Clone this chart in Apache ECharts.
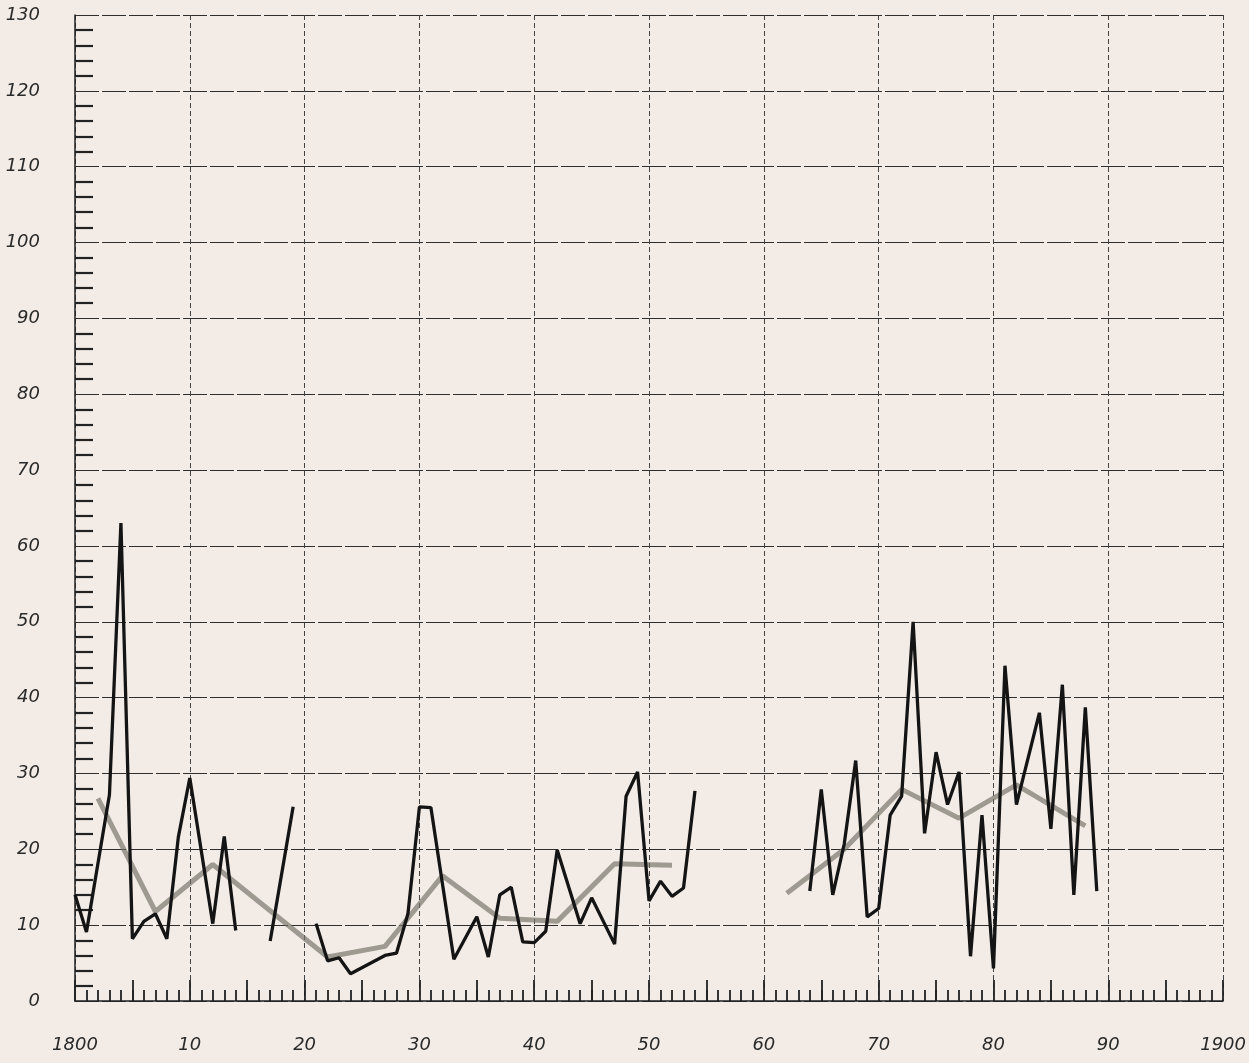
<!DOCTYPE html>
<html><head><meta charset="utf-8">
<script src="https://cdn.jsdelivr.net/npm/echarts@6/dist/echarts.min.js"></script>
<style>html,body{margin:0;padding:0;background:#f3ece6}#c{width:1249px;height:1063px}</style>
</head><body><div id="c"></div>
<script>
// Annual values (black line); null marks a break in the drawn line
const years = [1800,1801,1803,1804,1805,1806,1807,1808,1809,1810,1812,1813,1814,1815,1817,1819,1820,
  1821,1822,1823,1824,1827,1828,1829,1830,1831,1833,1835,1836,1837,1838,1839,1840,1841,1842,1844,1845,1847,
  1848,1849,1850,1851,1852,1853,1854,1858,
  1864,1865,1866,1867,1868,1869,1870,1871,1872,1873,1874,1875,1876,1877,1878,1879,1880,1881,1882,1884,
  1885,1886,1887,1888,1889];
const values = [14.0,9.1,27.2,63.0,8.2,10.5,11.5,8.2,21.6,29.4,10.2,21.7,9.3,null,7.9,25.6,null,
  10.2,5.3,5.7,3.6,6.0,6.3,11.5,25.6,25.5,5.5,11.1,5.8,14.0,15.0,7.8,7.7,9.2,19.9,10.2,13.6,7.5,
  27.0,30.2,13.2,15.8,13.8,14.9,27.7,null,
  14.5,27.9,14.0,20.7,31.7,11.1,12.2,24.5,27.0,50.0,22.1,32.8,25.9,30.2,5.9,24.5,4.3,44.2,25.9,38.0,
  22.7,41.7,14.0,38.7,14.5];
// Smoothed (grey) line
const trendYears = [1802,1807,1812,1822,1827,1832,1837,1842,1847,1852,1857,1862,1867,1872,1877,1882,1888];
const trendValues = [26.7,11.8,18.0,5.8,7.2,16.5,10.9,10.5,18.1,17.9,null,14.2,20.0,27.9,24.1,28.5,23.1];
// Tick labels
const xTickLabels = ['1800','10','20','30','40','50','60','70','80','90','1900'];
const yTickLabels = ['0','10','20','30','40','50','60','70','80','90','100','110','120','130'];

const pair = (xs, vs) => xs.map((x, i) => [x, vs[i] === null ? '-' : vs[i]]);
const labelFont = {fontFamily: 'DejaVu Sans', fontStyle: 'italic', fontSize: 18, color: '#2a2a2a'};

const chart = echarts.init(document.getElementById('c'), null, {renderer: 'canvas'});
chart.setOption({
  animation: false,
  backgroundColor: '#f3ece6',
  grid: {left: 75, right: 24, top: 15, bottom: 62, containLabel: false},
  xAxis: [{
    type: 'value', min: 1800, max: 1900, interval: 10,
    axisLine: {show: true, lineStyle: {color: '#222', width: 1.5}},
    axisTick: {show: false, inside: true},
    minorTick: {show: true, splitNumber: 10, length: 11, lineStyle: {color: '#222', width: 1.8}},
    splitLine: {show: true, lineStyle: {color: '#444', width: 1, type: [5, 3]}},
    axisLabel: Object.assign({margin: 35, formatter: v => xTickLabels[Math.round((v - 1800) / 10)]}, labelFont)
  }, {
    type: 'value', min: 1800, max: 1900, interval: 5, position: 'bottom',
    axisLine: {show: false}, axisLabel: {show: false}, splitLine: {show: false},
    axisTick: {show: true, inside: true, length: 21, lineStyle: {color: '#222', width: 1.8}}
  }],
  yAxis: {
    type: 'value', min: 0, max: 130, interval: 10,
    axisLine: {show: true, lineStyle: {color: '#222', width: 1.5}},
    axisTick: {show: false, inside: true},
    minorTick: {show: true, splitNumber: 5, length: 18, lineStyle: {color: '#222', width: 2.2}},
    splitLine: {show: true, lineStyle: {color: '#2e2e2e', width: 1.2, type: [24, 3]}},
    axisLabel: Object.assign({margin: 35, formatter: v => yTickLabels[Math.round(v / 10)]}, labelFont)
  },
  series: [{
    type: 'line', data: pair(trendYears, trendValues), showSymbol: false, connectNulls: false,
    lineStyle: {color: 'rgba(112,110,100,0.65)', width: 5}, z: 2
  }, {
    type: 'line', data: pair(years, values), showSymbol: false, connectNulls: false,
    lineStyle: {color: '#141414', width: 3.3}, z: 3
  }]
});
</script></body></html>
